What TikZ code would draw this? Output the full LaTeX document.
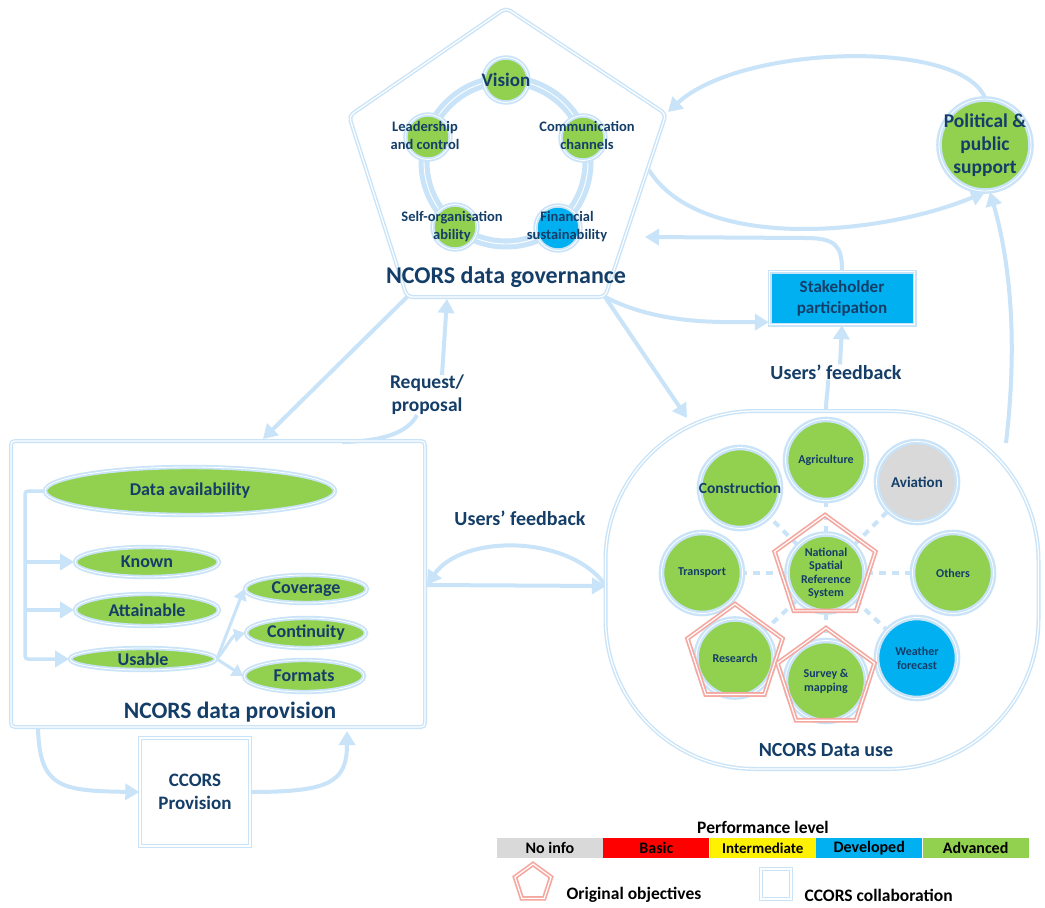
\documentclass[tikz,border=0pt]{standalone}
\usepackage{fontspec}
\setmainfont{Carlito}
\usetikzlibrary{arrows.meta,shapes.geometric,backgrounds}
\definecolor{lb}{RGB}{201,228,248}
\definecolor{grn}{RGB}{146,208,80}
\definecolor{cyn}{RGB}{0,176,240}
\definecolor{gry}{RGB}{217,217,217}
\definecolor{navy}{RGB}{20,62,104}
\definecolor{salmon}{RGB}{244,168,160}
\newcommand\fsz[2]{\fontsize{#1}{#2}\selectfont}
\begin{document}
\begin{tikzpicture}[x=1pt,y=-1pt,
  flow/.style={draw=lb, line width=4pt, -{Triangle[length=14pt,width=16pt]}},
  thinflow/.style={draw=lb, line width=3pt, -{Triangle[length=11pt,width=13pt]}},
  link/.style={draw=lb, line width=4pt},
  frame/.style={draw=lb, double=white, line width=1.4pt, double distance=1.2pt},
  ring/.style={draw=lb, double=white, line width=1.8pt, double distance=0.8pt},
  bigring/.style={draw=lb, double=white, line width=2.4pt, double distance=0.8pt},
  txt/.style={text=navy, align=center, inner sep=0pt},
  gdot/.style={circle, ring, fill=grn, minimum size=45pt, inner sep=0pt},
  udot/.style={circle, bigring, fill=grn, minimum size=81pt, inner sep=0pt, text=navy, align=center},
  oval/.style={ellipse, ring, fill=grn, inner sep=0pt, text=navy},
  objective/.style={regular polygon, regular polygon sides=5, draw=salmon, double=white,
                    line width=1.7pt, double distance=1.2pt, inner sep=0pt},
  spoke/.style={draw=lb, line width=4pt, dash pattern=on 7pt off 6pt},
  lev/.style={minimum width=106pt, minimum height=20pt, inner sep=0pt, text=black,
              font=\fsz{16}{18}\bfseries},
]
\useasboundingbox (0,0) rectangle (1045,908);

% ---------- governance pentagon ----------
\coordinate (gT) at (506,8);
\coordinate (gR) at (666,114);
\coordinate (gBR) at (605,297);
\coordinate (gBL) at (407,297);
\coordinate (gL) at (349,116);
\draw[frame, rounded corners=5pt] (gT) -- (gR) -- (gBR) -- (gBL) -- (gL) -- cycle;

\draw[lb, line width=11pt] (506,162) circle[radius=82pt];
\draw[white, line width=0.9pt] (506,162) circle[radius=82pt];

\node[gdot] (vis) at (506,80) {};
\node[gdot] (lead) at (428,137) {};
\node[gdot] (comm) at (583,138) {};
\node[gdot] (self) at (455,227) {};
\node[gdot, fill=cyn] (fin) at (558,228) {};
\node[txt, font=\fsz{19}{20}\bfseries] at (vis) {Vision};
\node[txt, font=\fsz{14.5}{18}\bfseries] at (425,135) {Leadership\\and control};
\node[txt, font=\fsz{14.5}{18}\bfseries] at (587,135) {Communication\\channels};
\node[txt, font=\fsz{14.5}{18}\bfseries] at (452,227) {Self-organisation\\ability};
\node[txt, font=\fsz{14.5}{18}\bfseries] at (567,227) {Financial\\sustainability};
\node[txt, font=\fsz{24}{26}\bfseries] (govt) at (506,277) {NCORS data governance};

% ---------- political support and stakeholders ----------
\node[circle, bigring, fill=grn, minimum size=92pt, inner sep=0pt] (pol) at (985,145) {};
\node[txt, font=\fsz{19.5}{23}\bfseries] at (pol) {Political \&\\public\\support};
\node[frame, fill=cyn, minimum width=145pt, minimum height=53pt, txt,
      font=\fsz{17}{21}\bfseries] (stk) at (842,298) {Stakeholder\\participation};

% ---------- data provision ----------
\node[frame, rounded corners=4pt, minimum width=414pt, minimum height=286pt] (prov) at (218,584) {};
\node[oval, minimum width=290pt, minimum height=48pt, font=\fsz{18}{20}\bfseries] (da) at (190,491) {Data availability};
\node[oval, minimum width=144pt, minimum height=30pt, font=\fsz{18}{20}\bfseries] (kn) at (147,562) {Known};
\node[oval, minimum width=144pt, minimum height=32pt, font=\fsz{18}{20}\bfseries] (at) at (147,610) {Attainable};
\node[oval, minimum width=146pt, minimum height=22pt, font=\fsz{18}{20}\bfseries] (us) at (143,659) {Usable};
\node[oval, minimum width=122pt, minimum height=28pt, font=\fsz{18}{20}\bfseries] (cov) at (306,589) {Coverage};
\node[oval, minimum width=120pt, minimum height=30pt, font=\fsz{18}{20}\bfseries] (con) at (306,633) {Continuity};
\node[oval, minimum width=120pt, minimum height=32pt, font=\fsz{18}{20}\bfseries] (fmt) at (304,676) {Formats};
\node[txt, font=\fsz{23.5}{26}\bfseries] (provt) at (230,712) {NCORS data provision};

\node[frame, minimum width=110pt, minimum height=108pt, txt, font=\fsz{19}{23}\bfseries] (cc) at (195,792) {CCORS\\Provision};

% ---------- data use ----------
\node[frame, rounded corners=150pt, minimum width=433pt, minimum height=358pt] (use) at (822,590) {};
\node[udot, font=\fsz{12}{14}\bfseries] (agr) at (826,460) {Agriculture};
\node[udot] (cons) at (740,488) {};
\node[txt, font=\fsz{15.5}{17}\bfseries] at (cons) {Construction};
\node[udot, fill=gry, font=\fsz{15}{17}\bfseries] (avi) at (917,482) {Aviation};
\node[udot, font=\fsz{12}{14}\bfseries] (tra) at (702,573) {Transport};
\node[udot, font=\fsz{12}{14}\bfseries] (oth) at (953,573) {Others};
\node[udot, minimum size=78pt, font=\fsz{12}{13.5}\bfseries] (nsrs) at (826,573) {National\\Spatial\\Reference\\System};
\node[udot, minimum size=78pt, font=\fsz{12}{14}\bfseries] (res) at (735,658) {Research};
\node[udot, font=\fsz{12}{14}\bfseries] (sur) at (826,681) {Survey \&\\mapping};
\node[udot, fill=cyn, font=\fsz{12}{14}\bfseries] (wea) at (917,658) {Weather\\forecast};
\node[objective, minimum size=106pt] (objN) at (825,568) {};
\node[objective, minimum size=100pt] (objR) at (735,654) {};
\node[objective, minimum size=102pt] (objS) at (826,679) {};
\node[txt, font=\fsz{20}{22}\bfseries] (uset) at (826,750) {NCORS Data use};

% ---------- connectors ----------
\begin{scope}[on background layer]
  \fill[white] (0,0) rectangle (1045,908);
  \foreach \t in {agr,cons,avi,tra,oth,res,sur,wea} \draw[spoke] (nsrs) -- (\t);

  % provision internals
  \coordinate (bTop) at (25,491);
  \coordinate (bBot) at (25,659);
  \draw[flow, line width=3.5pt, rounded corners=3pt] (da.west) -- (bTop) -- (bBot) -- (us.west);
  \draw[flow, line width=3.5pt] (bTop |- kn) -- (kn.west);
  \draw[flow, line width=3.5pt] (bTop |- at) -- (at.west);
  \draw[thinflow] (us.east) -- (cov.west);
  \draw[thinflow] (us.east) .. controls (226,648) and (232,636) .. (con.west);
  \draw[thinflow] (us.east) -- (fmt.west);

  % governance to provision
  \coordinate (pIn) at (263,439);
  \draw[flow] (gBL) -- (pIn);
  \node[txt, font=\fsz{19.5}{23}\bfseries] (req) at (427,395) {Request/\\proposal};
  \coordinate (pOut) at (342,442);
  \draw[link] (pOut) .. controls (385,441) and (408,432) .. ([xshift=-10pt]req.south);
  \coordinate (gReq) at (447,299);
  \draw[flow] ([xshift=15pt]req.north) -- (gReq);

  % governance to data use and stakeholders
  \coordinate (uIn) at (687,418);
  \draw[flow] (gBR) -- (uIn);
  \draw[flow] (gBR) .. controls (660,325) and (720,322) .. ([yshift=3pt]stk.south west);
  \coordinate (gIn) at (645,237);
  \draw[flow] (stk.north) .. controls (842,246) and (836,238) .. (805,238) -- (gIn);

  % political support loop
  \coordinate (gOut) at (649,170);
  \draw[flow] (gOut) .. controls (700,252) and (880,236) .. (pol.south);
  \coordinate (gTop) at (668,112);
  \draw[flow] (pol.north) .. controls (960,38) and (740,45) .. (gTop);
  \coordinate (uTR) at (1006,443);
  \draw[flow] (uTR) .. controls (1018,340) and (1010,262) .. (990,192);

  % users' feedback to stakeholders
  \node[txt, font=\fsz{20}{22}\bfseries] (fb2) at (836,372) {Users’ feedback};
  \coordinate (uTop) at (826,411);
  \draw[link] (uTop) .. controls (826,398) and (828,392) .. ([xshift=-8pt]fb2.south);
  \draw[flow] ([xshift=4pt]fb2.north) -- (stk.south);

  % users' feedback between provision and use
  \node[txt, font=\fsz{20}{22}\bfseries] (fb1) at (520,518) {Users’ feedback};
  \coordinate (uL) at (427,585);
  \coordinate (uR) at (606,586);
  \draw[flow] (uL) -- (uR);
  \draw[flow] (uR) .. controls (570,534) and (462,534) .. (uL);

  % CCORS provision loop
  \coordinate (pBotL) at (38,729);
  \coordinate (pBotR) at (347,731);
  \draw[flow] (pBotL) .. controls (40,787) and (60,791) .. (cc.west);
  \draw[flow] (cc.east) .. controls (330,792) and (347,782) .. (pBotR);
\end{scope}

% ---------- legend ----------
\node[font=\fsz{17.5}{19}\bfseries, text=black] (perf) at (763,827) {Performance level};
\node[lev, fill=gry] (l1) at (550,848) {No info};
\node[lev, fill=red, anchor=west] (l2) at (l1.east) {Basic};
\node[lev, fill=yellow, anchor=west, font=\fsz{15}{17}\bfseries] (l3) at (l2.east) {Intermediate};
\node[lev, fill=cyn, anchor=west] (l4) at (l3.east) {Developed};
\node[lev, fill=grn, anchor=west] (l5) at (l4.east) {Advanced};
\node[objective, minimum size=38pt] (lgP) at (533,883) {};
\node[anchor=west, font=\fsz{17.5}{19}\bfseries, text=black] (lgPt) at (563,895) {Original objectives};
\node[frame, minimum size=30pt] (lgS) at (776,884) {};
\node[anchor=west, font=\fsz{17.5}{19}\bfseries, text=black] (lgSt) at (801,895) {CCORS collaboration};
\end{tikzpicture}
\end{document}
